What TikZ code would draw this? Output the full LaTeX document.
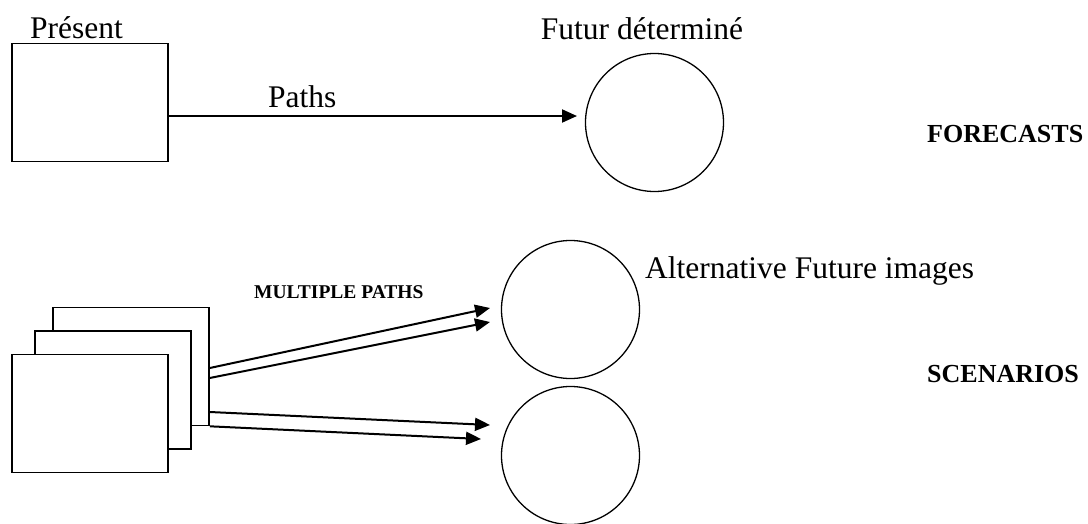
\documentclass[tikz,border=0pt]{standalone}
\usepackage{fontspec}
\setmainfont{Liberation Serif}
\usetikzlibrary{arrows.meta}
\begin{document}
\begin{tikzpicture}[x=1pt,y=-1pt,
  frame/.style={draw,line width=1.6pt,fill=white,minimum width=156pt,minimum height=118pt,inner sep=0pt},
  future/.style={draw,circle,line width=1.3pt,minimum size=138pt,inner sep=0pt},
  route/.style={line width=2pt,-{Triangle[length=15pt,width=13pt]}},
  lbl/.style={font=\fontsize{31.5}{35}\selectfont,inner sep=0pt,anchor=base west},
  head/.style={font=\bfseries\fontsize{26}{30}\selectfont,inner sep=0pt,anchor=base west}]
\useasboundingbox (0,0) rectangle (1088,523);

% forecast: one present, one determined future
\node[frame] (pres) at (90,102.5) {};
\node[future] (fut) at (654.5,122.5) {};
\node[lbl] (presl) at (30,38) {Présent};
\node[lbl,anchor=base] (futl) at (642,39) {Futur déterminé};
\node[lbl] (pathl) at (268,107) {Paths};
\coordinate (t0) at (577,116);
\draw[route] (pres.east |- t0) -- (t0);
\node[head] (fc) at (927,142) {FORECASTS};

% scenarios: stacked presents, alternative futures
\node[frame] (s3) at (131,366.5) {};
\node[frame] (s2) at (113,390) {};
\node[frame] (s1) at (90,413.5) {};
\node[future] (alt1) at (570.5,309.5) {};
\node[future] (alt2) at (570.5,455.5) {};
\node[lbl] (altl) at (645,278) {Alternative Future images};
\node[font=\bfseries\fontsize{19.5}{23}\selectfont,inner sep=0pt,anchor=base west] (mp) at (254,298) {MULTIPLE PATHS};
\node[head] (sc) at (927,382) {SCENARIOS};

\coordinate (a1) at (490,308);
\coordinate (a2) at (490,322);
\coordinate (a3) at (490,425);
\coordinate (a4) at (481,439);
\draw[route] ([yshift=-1.5pt]s3.east) -- (a1);
\draw[route] ([yshift=-11.5pt]s3.east) -- (a2);
\draw[route] ([yshift=-45.5pt]s3.east) -- (a3);
\draw[route] (s3.south east) -- (a4);
\end{tikzpicture}
\end{document}
